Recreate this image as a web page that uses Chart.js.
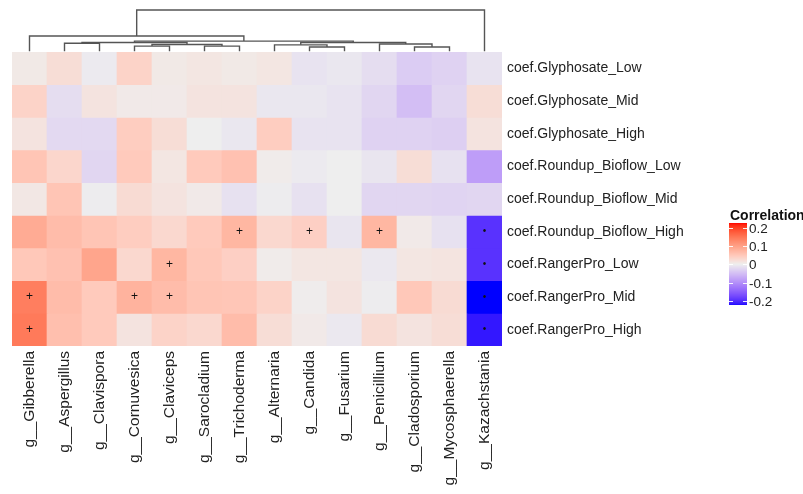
<!DOCTYPE html>
<html>
<head>
<meta charset="utf-8">
<script src="https://cdn.jsdelivr.net/npm/chart.js@4.4.1/dist/chart.umd.min.js"></script>
<style>
  html, body { margin: 0; padding: 0; background: #fff; }
  #wrap { width: 803px; height: 494px; position: relative; }
</style>
</head>
<body>
<div id="wrap"><canvas id="heat"></canvas></div>
<script>
// columns (genera) in dendrogram order
const genera = [
  "g__Gibberella", "g__Aspergillus", "g__Clavispora", "g__Cornuvesica",
  "g__Claviceps", "g__Sarocladium", "g__Trichoderma", "g__Alternaria",
  "g__Candida", "g__Fusarium", "g__Penicillium", "g__Cladosporium",
  "g__Mycosphaerella", "g__Kazachstania"
];

// rows, top to bottom
const coefs = [
  "coef.Glyphosate_Low", "coef.Glyphosate_Mid", "coef.Glyphosate_High",
  "coef.Roundup_Bioflow_Low", "coef.Roundup_Bioflow_Mid", "coef.Roundup_Bioflow_High",
  "coef.RangerPro_Low", "coef.RangerPro_Mid", "coef.RangerPro_High"
];

// correlation per row
const glyphosateLow  = [0.007, 0.022, -0.004, 0.036, 0.007, 0.011, 0.007, 0.011, -0.011, -0.007, -0.018, -0.036, -0.029, -0.011];
const glyphosateMid  = [0.036, -0.018, 0.014, 0.006, 0.006, 0.014, 0.014, -0.007, -0.007, -0.011, -0.025, -0.050, -0.025, 0.022];
const glyphosateHigh = [0.014, -0.022, -0.022, 0.043, 0.022, 0.000, -0.007, 0.043, -0.011, -0.011, -0.029, -0.029, -0.032, 0.014];
const bioflowLow     = [0.054, 0.032, -0.025, 0.047, 0.011, 0.047, 0.058, 0.004, -0.004, 0.000, -0.009, 0.022, -0.014, -0.085];
const bioflowMid     = [0.009, 0.054, -0.002, 0.025, 0.014, 0.006, -0.014, -0.002, -0.014, 0.000, -0.025, -0.025, -0.027, -0.025];
const bioflowHigh    = [0.086, 0.065, 0.054, 0.043, 0.029, 0.047, 0.072, 0.029, 0.040, -0.009, 0.072, 0.006, -0.013, -0.195];
const rangerLow      = [0.050, 0.058, 0.094, 0.029, 0.072, 0.050, 0.040, 0.004, 0.011, 0.011, -0.006, 0.011, 0.013, -0.195];
const rangerMid      = [0.140, 0.065, 0.047, 0.076, 0.065, 0.054, 0.052, 0.036, 0.002, 0.014, -0.002, 0.050, 0.025, -0.225];
const rangerHigh     = [0.145, 0.061, 0.047, 0.014, 0.036, 0.029, 0.065, 0.022, 0.006, -0.006, 0.025, 0.014, 0.022, -0.215];
const corr = [glyphosateLow, glyphosateMid, glyphosateHigh, bioflowLow, bioflowMid,
              bioflowHigh, rangerLow, rangerMid, rangerHigh];

// significance marks: [row, column, symbol]
const marks = [
  [5, 6, "+"], [5, 8, "+"], [5, 10, "+"], [5, 13, "•"],
  [6, 4, "+"], [6, 13, "•"],
  [7, 0, "+"], [7, 3, "+"], [7, 4, "+"], [7, 13, "•"],
  [8, 0, "+"], [8, 13, "•"]
];

// column dendrogram: merges of leaves (L#) and earlier merges (m#), with relative height
const merges = [
  ["L8", "L9", 0.12], ["L11", "L12", 0.12], ["L3", "L4", 0.14], ["L5", "L6", 0.14],
  ["L7", "m0", 0.17], ["m2", "m3", 0.18], ["L10", "m1", 0.19], ["L1", "L2", 0.21],
  ["m7", "m5", 0.226], ["m4", "m6", 0.226], ["m8", "m9", 0.26], ["L0", "m10", 0.38],
  ["m11", "L13", 1.0]
];

const legendTicks = [0.2, 0.1, 0, -0.1, -0.2];
const LIMIT = 0.225;

// --- Lab colour interpolation (like ggplot's gradient2) ---
function hexRgb(h) {
  return [1, 3, 5].map((i) => parseInt(h.substr(i, 2), 16));
}
function toLab(rgb) {
  const lin = rgb.map((c) => {
    c /= 255;
    return c > 0.04045 ? Math.pow((c + 0.055) / 1.055, 2.4) : c / 12.92;
  });
  const x = (lin[0] * 0.4124 + lin[1] * 0.3576 + lin[2] * 0.1805) / 0.95047;
  const y = lin[0] * 0.2126 + lin[1] * 0.7152 + lin[2] * 0.0722;
  const z = (lin[0] * 0.0193 + lin[1] * 0.1192 + lin[2] * 0.9505) / 1.08883;
  const f = (t) => (t > 0.008856 ? Math.cbrt(t) : 7.787 * t + 16 / 116);
  return [116 * f(y) - 16, 500 * (f(x) - f(y)), 200 * (f(y) - f(z))];
}
function fromLab(lab) {
  const fy = (lab[0] + 16) / 116, fx = fy + lab[1] / 500, fz = fy - lab[2] / 200;
  const inv = (t) => (t * t * t > 0.008856 ? t * t * t : (t - 16 / 116) / 7.787);
  const x = inv(fx) * 0.95047, y = inv(fy), z = inv(fz) * 1.08883;
  const lin = [
    x * 3.2406 + y * -1.5372 + z * -0.4986,
    x * -0.9689 + y * 1.8758 + z * 0.0415,
    x * 0.0557 + y * -0.204 + z * 1.057
  ];
  return lin.map((c) => {
    c = c > 0.0031308 ? 1.055 * Math.pow(c, 1 / 2.4) - 0.055 : 12.92 * c;
    return Math.round(Math.max(0, Math.min(1, c)) * 255);
  });
}
const labLow = toLab(hexRgb("#0000FF"));
const labMid = toLab(hexRgb("#EEEEEE"));
const labHigh = toLab(hexRgb("#FF0000"));
function colorFor(v) {
  const t = Math.max(-1, Math.min(1, v / LIMIT));
  const end = t < 0 ? labLow : labHigh;
  const a = Math.abs(t);
  const lab = labMid.map((m, i) => m + (end[i] - m) * a);
  const rgb = fromLab(lab);
  return `rgb(${rgb[0]},${rgb[1]},${rgb[2]})`;
}

const FONT = "'Liberation Sans', Arial, sans-serif";

const overlay = {
  id: "overlay",
  afterDatasetsDraw(chart) {
    const { ctx, chartArea, scales } = chart;
    const x = scales.x, y = scales.y;

    // significance marks
    ctx.save();
    ctx.fillStyle = "#111";
    ctx.textAlign = "center";
    ctx.textBaseline = "middle";
    marks.forEach(([r, c, s]) => {
      ctx.font = s === "+" ? `12px ${FONT}` : `10px ${FONT}`;
      ctx.fillText(s, x.getPixelForValue(c), y.getPixelForValue(r + 0.5));
    });
    ctx.restore();

    // dendrogram
    const dendroH = 42;
    const leafBase = 0.02;
    const hy = (h) => chartArea.top - h * dendroH;
    const nodes = {};
    genera.forEach((g, i) => { nodes["L" + i] = { x: x.getPixelForValue(i), h: leafBase }; });
    ctx.save();
    ctx.strokeStyle = "#555";
    ctx.lineWidth = 1.4;
    merges.forEach(([a, b, h], i) => {
      const na = nodes[a], nb = nodes[b];
      ctx.beginPath();
      ctx.moveTo(na.x, hy(na.h));
      ctx.lineTo(na.x, hy(h));
      ctx.lineTo(nb.x, hy(h));
      ctx.lineTo(nb.x, hy(nb.h));
      ctx.stroke();
      nodes["m" + i] = { x: (na.x + nb.x) / 2, h: h };
    });
    ctx.restore();

    // colour bar legend
    const barL = 729, barW = 18, zeroY = 264.3, perUnit = 183;
    const vy = (v) => zeroY - v * perUnit;
    const top = vy(LIMIT), bottom = vy(-LIMIT + 0.003);
    ctx.save();
    for (let py = Math.floor(top); py < bottom; py++) {
      const v = (zeroY - py - 0.5) / perUnit;
      ctx.fillStyle = colorFor(v);
      ctx.fillRect(barL, py, barW, 1);
    }
    ctx.strokeStyle = "rgba(255,255,255,0.9)";
    ctx.lineWidth = 1;
    ctx.fillStyle = "#222";
    ctx.font = `13.5px ${FONT}`;
    ctx.textAlign = "left";
    ctx.textBaseline = "middle";
    legendTicks.forEach((v) => {
      const py = Math.round(vy(v)) + 0.5;
      ctx.beginPath();
      ctx.moveTo(barL, py); ctx.lineTo(barL + 4, py);
      ctx.moveTo(barL + barW - 4, py); ctx.lineTo(barL + barW, py);
      ctx.stroke();
      ctx.fillText(String(v), barL + barW + 2, py + 1);
    });
    ctx.font = `bold 14px ${FONT}`;
    ctx.textBaseline = "alphabetic";
    ctx.fillStyle = "#111";
    ctx.fillText("Correlation", barL + 1, 220);
    ctx.restore();
  }
};

new Chart(document.getElementById("heat"), {
  type: "bar",
  data: {
    labels: genera,
    datasets: coefs.map((name, r) => ({
      label: name,
      data: genera.map(() => 1),
      backgroundColor: corr[r].map(colorFor),
      borderWidth: 0,
      barPercentage: 1,
      categoryPercentage: 1
    }))
  },
  options: {
    responsive: true,
    maintainAspectRatio: false,
    animation: false,
    layout: { padding: { left: 12, top: 52, right: 0, bottom: 0 } },
    plugins: { legend: { display: false }, tooltip: { enabled: false } },
    scales: {
      x: {
        stacked: true,
        grid: { display: false, drawTicks: false },
        border: { display: false },
        ticks: {
          minRotation: 90,
          maxRotation: 90,
          autoSkip: false,
          padding: 5,
          color: "#222",
          font: { family: FONT, size: 15.5 }
        },
        afterFit(scale) { scale.height = 148; }
      },
      y: {
        stacked: true,
        position: "right",
        reverse: true,
        min: 0,
        max: coefs.length,
        grid: { display: false, drawTicks: false },
        border: { display: false },
        afterBuildTicks(scale) {
          scale.ticks = coefs.map((_, i) => ({ value: i + 0.5 }));
        },
        ticks: {
          padding: 5,
          color: "#222",
          font: { family: FONT, size: 14 },
          callback: (v) => coefs[Math.floor(v)]
        },
        afterFit(scale) { scale.width = 301; }
      }
    }
  },
  plugins: [overlay]
});
</script>
</body>
</html>
